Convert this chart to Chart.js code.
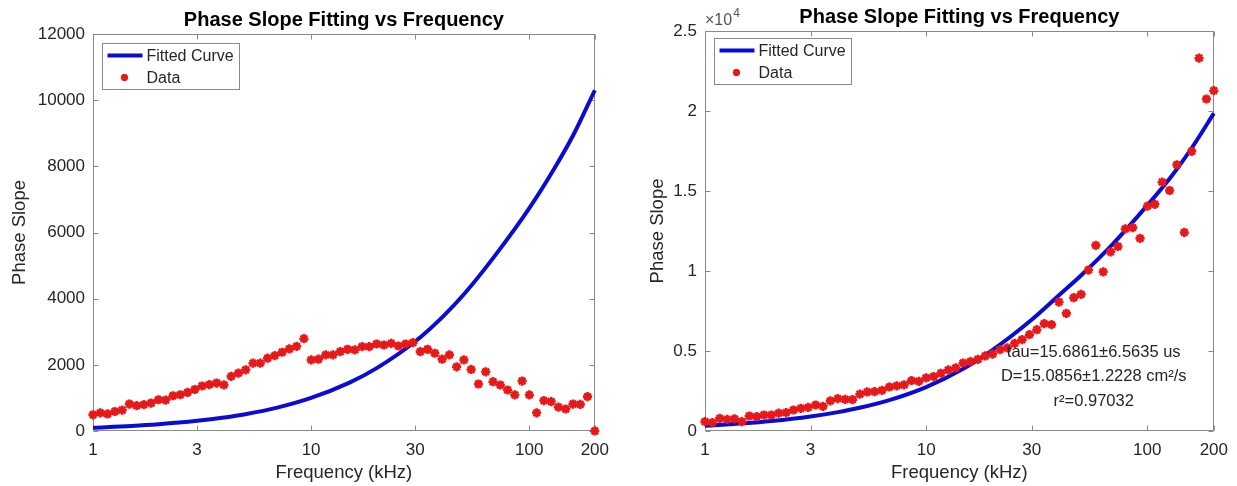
<!DOCTYPE html>
<html>
<head>
<meta charset="utf-8">
<title>Phase Slope Fitting vs Frequency</title>
<script src="https://cdn.jsdelivr.net/npm/chart.js@4.4.1/dist/chart.umd.min.js"></script>
<style>
  html, body { margin: 0; padding: 0; background: #fff; }
  #wrap { position: relative; width: 1237px; height: 486px; }
  canvas { position: absolute; top: 0; }
</style>
</head>
<body>
<div id="wrap">
  <canvas id="grafica1" width="618" height="486" style="left:0"></canvas>
  <canvas id="grafica2" width="619" height="486" style="left:618px"></canvas>
</div>
<script>
// Measured frequencies (kHz), same for both panels
const freq = [
  1.000, 1.080, 1.166, 1.259, 1.360, 1.468, 1.585, 1.712, 1.848, 1.996,
  2.155, 2.327, 2.513, 2.714, 2.930, 3.164, 3.417, 3.689, 3.984, 4.302,
  4.645, 5.016, 5.416, 5.848, 6.315, 6.819, 7.364, 7.951, 8.586, 9.271,
  10.01, 10.81, 11.67, 12.60, 13.61, 14.70, 15.87, 17.14, 18.50, 19.98,
  21.58, 23.30, 25.16, 27.16, 29.33, 31.67, 34.20, 36.93, 39.88, 43.06,
  46.50, 50.21, 54.21, 58.54, 63.21, 68.26, 73.71, 79.59, 85.94, 92.80,
  100.2, 108.2, 116.8, 126.2, 136.2, 147.1, 158.8, 171.5, 185.2, 200.0
];

// Left panel: measured phase slope
const leftData = [
  490, 550, 515, 590, 630, 815, 765, 795, 845, 945,
  935, 1065, 1095, 1165, 1255, 1360, 1400, 1450, 1395, 1650,
  1750, 1850, 2050, 2050, 2200, 2280, 2380, 2480, 2560, 2790,
  2150, 2170, 2300, 2300, 2400, 2470, 2450, 2550, 2550, 2630,
  2600, 2650, 2570, 2630, 2670, 2400, 2470, 2350, 2170, 2300,
  1940, 2150, 1860, 1420, 1790, 1490, 1390, 1240, 1090, 1510,
  1090, 550, 920, 890, 720, 665, 815, 805, 1040, 0
];

// Right panel: measured phase slope
const rightData = [
  583, 520, 790, 730, 760, 583, 937, 896, 1000, 1000,
  1120, 1146, 1313, 1417, 1480, 1625, 1540, 1880, 2020, 1980,
  1960, 2300, 2440, 2460, 2540, 2750, 2820, 2880, 3150, 3100,
  3320, 3400, 3610, 3815, 3940, 4250, 4340, 4480, 4690, 4800,
  5090, 5190, 5480, 5710, 6020, 6330, 6710, 6650, 8060, 7350,
  8330, 8540, 10060, 11600, 9950, 11200, 11530, 12630, 12710, 12040,
  14050, 14170, 15550, 15030, 16640, 12410, 17480, 23300, 20750, 21270
];

// Fitted curves at these frequencies
const fitFreq = [1, 1.5, 2, 3, 4, 5, 7, 10, 15, 20, 30, 40, 50, 70, 100, 130, 160, 200];
const leftFit = [100, 151, 203, 307, 408, 508, 707, 999, 1463, 1901, 2705, 3444, 4117, 5316, 6728, 7918, 8969, 10300];
const rightFit = [330, 479, 624, 907, 1181, 1450, 1979, 2745, 3953, 5065, 6950, 8500, 9700, 11700, 14100, 16000, 17750, 19850];

// Ticks
const xTicks = [1, 3, 10, 30, 100, 200];
const leftYTicks = [0, 2000, 4000, 6000, 8000, 10000, 12000];
const rightYTicks = [0, 5000, 10000, 15000, 20000, 25000];

// Text of the fit results (right panel)
const fitNotes = ["tau=15.6861\u00b16.5635 us", "D=15.0856\u00b11.2228 cm\u00b2/s", "r\u00b2=0.97032"];

const FONT = "'Liberation Sans', Arial, Helvetica, sans-serif";
const TEXT = "#262626";
const FRAME = "#8a8a8a";
const RED = "#e81818";
const BLUE = "#0b0bd6";
const TICK_LEN = 5;

/* Box, inward ticks, title, legend and notes, MATLAB style */
const matlabAxes = {
  id: "matlabAxes",
  beforeDatasetsDraw(chart, args, opts) {
    const { ctx, chartArea: a, scales } = chart;
    const L = Math.round(a.left) + 0.5, R = Math.round(a.right) - 0.5;
    const T = Math.round(a.top) + 0.5, B = Math.round(a.bottom) - 0.5;
    ctx.save();
    ctx.strokeStyle = FRAME;
    ctx.lineWidth = 1;
    ctx.strokeRect(L, T, R - L, B - T);
    ctx.beginPath();
    scales.x.ticks.forEach((t) => {
      const px = Math.round(scales.x.getPixelForValue(t.value)) + 0.5;
      ctx.moveTo(px, B); ctx.lineTo(px, B - TICK_LEN);
      ctx.moveTo(px, T); ctx.lineTo(px, T + TICK_LEN);
    });
    scales.y.ticks.forEach((t) => {
      const py = Math.round(scales.y.getPixelForValue(t.value)) + 0.5;
      ctx.moveTo(L, py); ctx.lineTo(L + TICK_LEN, py);
      ctx.moveTo(R, py); ctx.lineTo(R - TICK_LEN, py);
    });
    ctx.stroke();

    // title
    ctx.fillStyle = "#000";
    ctx.font = `bold 20px ${FONT}`;
    ctx.textAlign = "center";
    ctx.textBaseline = "alphabetic";
    ctx.fillText(opts.title, (a.left + a.right) / 2, a.top - 8);

    // x10^4 multiplier
    if (opts.exponent) {
      ctx.fillStyle = "#555";
      ctx.textAlign = "left";
      ctx.font = `16px ${FONT}`;
      const base = "\u00d710";
      ctx.fillText(base, a.left, a.top - 6);
      const w = ctx.measureText(base).width;
      ctx.font = `12px ${FONT}`;
      ctx.fillText(opts.exponent, a.left + w + 1, a.top - 14);
    }
    ctx.restore();
  },
  afterDraw(chart, args, opts) {
    const { ctx, chartArea: a } = chart;
    const sets = chart.data.datasets;
    ctx.save();

    // legend box in the upper left corner
    ctx.font = `16px ${FONT}`;
    const textW = Math.max(...sets.map((d) => ctx.measureText(d.label).width));
    const bx = Math.round(a.left + opts.legendDx) + 0.5;
    const by = Math.round(a.top + opts.legendDy) + 0.5;
    const bw = Math.round(5 + 35 + 4 + textW + 6);
    const bh = 46;
    ctx.fillStyle = "#fff";
    ctx.fillRect(bx, by, bw, bh);
    ctx.strokeStyle = FRAME;
    ctx.lineWidth = 1;
    ctx.strokeRect(bx, by, bw, bh);

    sets.forEach((d, i) => {
      const cy = by + 12 + i * 22;
      if (d.showLine) {
        ctx.strokeStyle = d.borderColor;
        ctx.lineWidth = d.borderWidth;
        ctx.beginPath();
        ctx.moveTo(bx + 5, cy);
        ctx.lineTo(bx + 40, cy);
        ctx.stroke();
      } else {
        ctx.strokeStyle = d.pointBorderColor;
        ctx.fillStyle = d.pointBackgroundColor;
        ctx.lineWidth = d.pointBorderWidth;
        Chart.helpers.drawPoint(ctx, {
          pointStyle: d.pointStyle, radius: d.pointRadius - 1,
          borderWidth: d.pointBorderWidth, rotation: 0
        }, bx + 22, cy);
      }
      ctx.fillStyle = TEXT;
      ctx.font = `16px ${FONT}`;
      ctx.textAlign = "left";
      ctx.textBaseline = "middle";
      ctx.fillText(d.label, bx + 44, cy + 1);
    });

    // fit results
    if (opts.notes) {
      ctx.fillStyle = TEXT;
      ctx.font = `16.5px ${FONT}`;
      ctx.textAlign = "center";
      ctx.textBaseline = "middle";
      const nx = a.left + opts.notesX * (a.right - a.left);
      const ny = a.top + opts.notesY * (a.bottom - a.top);
      opts.notes.forEach((line, i) => ctx.fillText(line, nx, ny + i * 24.5));
    }
    ctx.restore();
  }
};

function makeChart(canvas, cfg) {
  const fitPts = fitFreq.map((f, i) => ({ x: f, y: cfg.fit[i] }));
  const dataPts = freq.map((f, i) => ({ x: f, y: cfg.data[i] }));

  return new Chart(canvas, {
    type: "scatter",
    data: {
      datasets: [
        {
          label: "Fitted Curve",
          data: fitPts,
          showLine: true,
          borderColor: BLUE,
          borderWidth: 4,
          pointRadius: 0,
          cubicInterpolationMode: "monotone",
          clip: false,
          order: 1,
        },
        {
          label: "Data",
          data: dataPts,
          showLine: false,
          pointStyle: "star",
          pointRadius: 4.6,
          pointBorderWidth: 2.6,
          pointBorderColor: RED,
          pointBackgroundColor: RED,
          clip: false,
          order: 0,
        },
      ],
    },
    options: {
      responsive: false,
      devicePixelRatio: 1,
      animation: false,
      events: [],
      layout: { padding: { left: 0, top: cfg.top, right: cfg.right, bottom: 0 } },
      scales: {
        x: {
          type: "logarithmic",
          min: 1,
          max: 200,
          grid: { display: false, drawTicks: false },
          border: { display: false },
          afterBuildTicks: (s) => { s.ticks = xTicks.map((v) => ({ value: v })); },
          afterFit: (s) => { s.height = 55; },
          ticks: {
            autoSkip: false, maxRotation: 0, padding: 9, color: TEXT,
            font: { family: FONT, size: 17 },
            callback: (v) => String(v),
          },
          title: {
            display: true, text: "Frequency (kHz)", color: TEXT,
            font: { family: FONT, size: 18.5 }, padding: { top: 0, bottom: 2 },
          },
        },
        y: {
          type: "linear",
          min: 0,
          max: cfg.yMax,
          grid: { display: false, drawTicks: false },
          border: { display: false },
          afterBuildTicks: (s) => { s.ticks = cfg.yTicks.map((v) => ({ value: v })); },
          afterFit: (s) => { s.width = cfg.left; },
          ticks: {
            padding: 8, color: TEXT,
            font: { family: FONT, size: 17 },
            callback: cfg.yLabel,
          },
          title: {
            display: true, text: "Phase Slope", color: TEXT,
            font: { family: FONT, size: 18.5 }, padding: { top: cfg.yTitlePad, bottom: 0 },
          },
        },
      },
      plugins: {
        legend: { display: false },
        tooltip: { enabled: false },
        matlabAxes: {
          title: "Phase Slope Fitting vs Frequency",
          exponent: cfg.exponent,
          legendDx: cfg.legendDx,
          legendDy: cfg.legendDy,
          notes: cfg.notes,
          notesX: 0.764,
          notesY: 0.8025,
        },
      },
    },
    plugins: [matlabAxes],
  });
}

document.addEventListener("DOMContentLoaded", () => {
  const $ = (id) => document.getElementById(id);

  // Panel 1: fit does not follow the data
  makeChart($("grafica1"), {
    data: leftData, fit: leftFit, yMax: 12000, yTicks: leftYTicks,
    yLabel: (v) => String(v),
    left: 93, right: 21, top: 34, yTitlePad: 9,
    legendDx: 9, legendDy: 9, exponent: null, notes: null,
  });

  // Panel 2: values in units of 10^4
  makeChart($("grafica2"), {
    data: rightData, fit: rightFit, yMax: 25000, yTicks: rightYTicks,
    yLabel: (v) => String(v / 10000),
    left: 87, right: 19, top: 31, yTitlePad: 29,
    legendDx: 9, legendDy: 7, exponent: "4", notes: fitNotes,
  });
});
</script>
</body>
</html>
